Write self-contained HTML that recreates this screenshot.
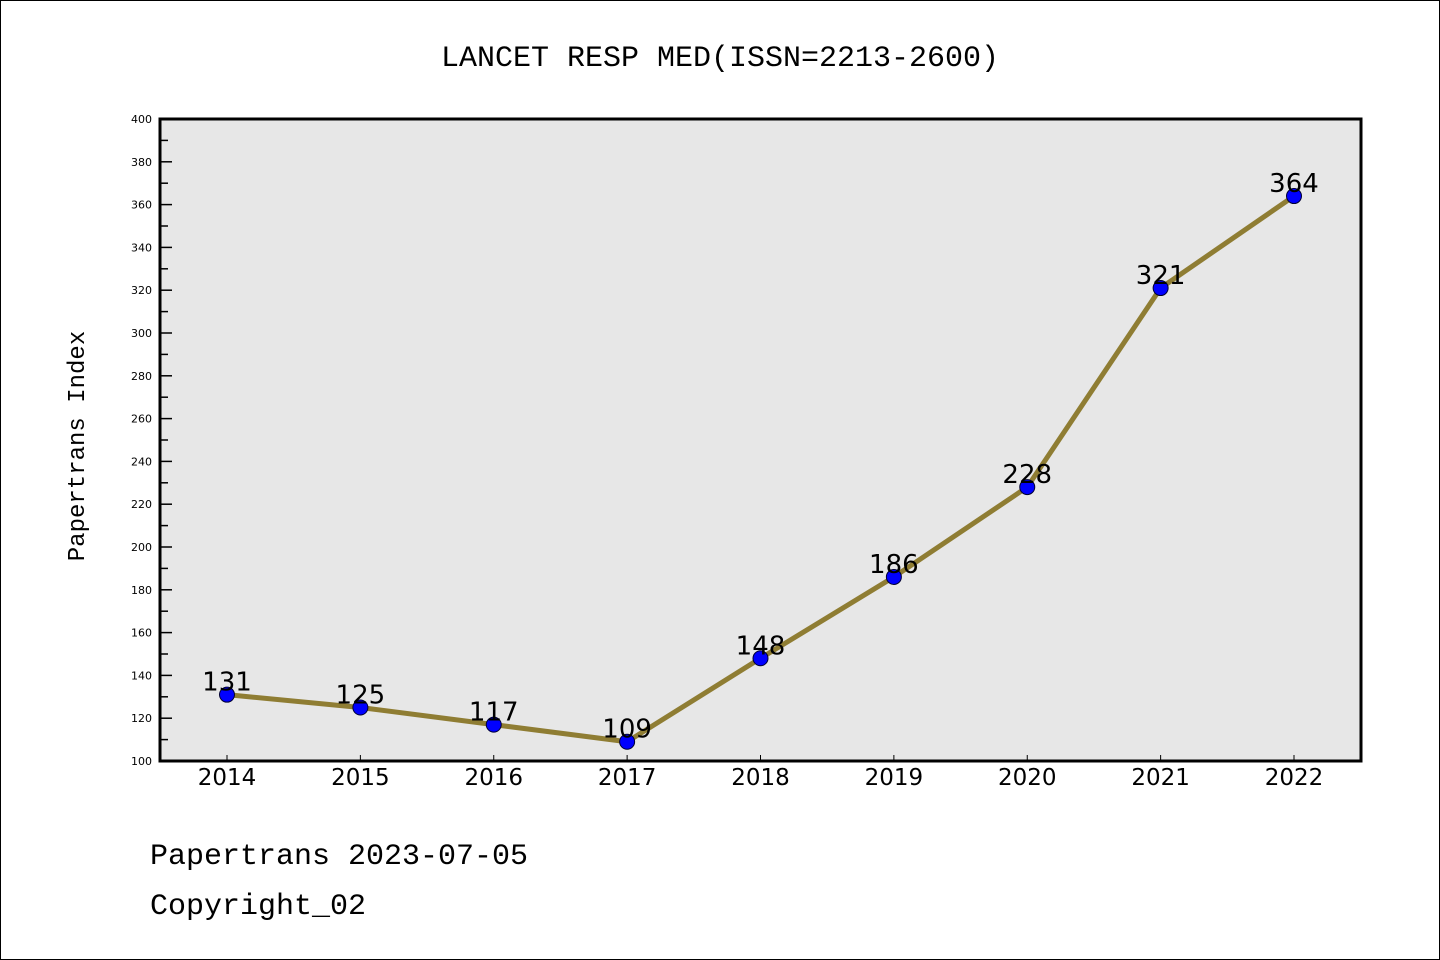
<!DOCTYPE html>
<html><head><meta charset="utf-8"><style>
body{margin:0;background:#fff}
svg{display:block}
</style></head><body>
<svg id="chart" width="1440" height="960" xmlns="http://www.w3.org/2000/svg">
<rect x="0.5" y="0.5" width="1439" height="959" fill="#fff" stroke="#000" stroke-width="1"/>
<text x="720" y="66" text-anchor="middle" font-family="'WenQuanYi Zen Hei','Liberation Mono',monospace" font-size="30">LANCET RESP MED(ISSN=2213-2600)</text>
<rect x="160" y="119" width="1201" height="642" fill="#e7e7e7"/>
<g id="axes"></g>
<g id="marks"></g>
<rect x="160" y="119" width="1201" height="642" fill="none" stroke="#000" stroke-width="3"/>
<text transform="translate(84,446) rotate(-90)" text-anchor="middle" font-family="'WenQuanYi Zen Hei','Liberation Mono',monospace" font-size="24">Papertrans Index</text>
<text x="150" y="864" font-family="'WenQuanYi Zen Hei','Liberation Mono',monospace" font-size="30">Papertrans 2023-07-05</text>
<text x="150" y="914" font-family="'WenQuanYi Zen Hei','Liberation Mono',monospace" font-size="30">Copyright_02</text>
</svg>
<script>
const categories = ['2014','2015','2016','2017','2018','2019','2020','2021','2022'];
const values = [131,125,117,109,148,186,228,321,364];
const yTicks = [100,120,140,160,180,200,220,240,260,280,300,320,340,360,380,400];
const NS='http://www.w3.org/2000/svg';
const L=160,R=1361,T=119,B=761,yMin=100,yMax=400;
const x0=227,x1=1294;
function xs(i){return x0+(x1-x0)*i/(categories.length-1);}
function ys(v){return B-(v-yMin)/(yMax-yMin)*(B-T);}
function mk(t,a){const e=document.createElementNS(NS,t);for(const k in a)e.setAttribute(k,a[k]);return e;}
const axes=document.getElementById('axes'),marks=document.getElementById('marks');
yTicks.forEach((v,i)=>{
  const y=ys(v);
  const t=mk('line',{x1:L,x2:L+12,y1:y,y2:y,stroke:'#000','stroke-width':1.5});
  
  
  axes.appendChild(t);
  if(i<yTicks.length-1){const ym=ys(v+10);
    const m=mk('line',{x1:L,x2:L+8,y1:ym,y2:ym,stroke:'#000','stroke-width':1.5});
    
    
    axes.appendChild(m);}
  const lb=mk('text',{x:L-8,y:y+4,'text-anchor':'end','font-family':'DejaVu Sans,sans-serif','font-size':11});
  lb.textContent=v;
  
  
  axes.appendChild(lb);
});
categories.forEach((c,i)=>{
  const x=xs(i);
  const t=mk('line',{x1:x,x2:x,y1:B,y2:B-6,stroke:'#000','stroke-width':1});
  
  
  axes.appendChild(t);
  const lb=mk('text',{x:x,y:785,'text-anchor':'middle','font-family':'DejaVu Sans,sans-serif','font-size':23});
  lb.textContent=c;
  
  
  axes.appendChild(lb);
});
const pts=values.map((v,i)=>xs(i)+','+ys(v)).join(' ');
const line=mk('polyline',{points:pts,fill:'none',stroke:'#8f7d33','stroke-width':5,'stroke-linejoin':'round'});


marks.appendChild(line);
values.forEach((v,i)=>{
  const c=mk('circle',{cx:xs(i),cy:ys(v),r:7.5,fill:'#0000ff',stroke:'#000033','stroke-width':1});
  
  
  marks.appendChild(c);
  const lb=mk('text',{x:xs(i),y:ys(v)-4,'text-anchor':'middle','font-family':'DejaVu Sans,sans-serif','font-size':26});
  lb.textContent=v;
  
  
  marks.appendChild(lb);
});
</script>
</body></html>
